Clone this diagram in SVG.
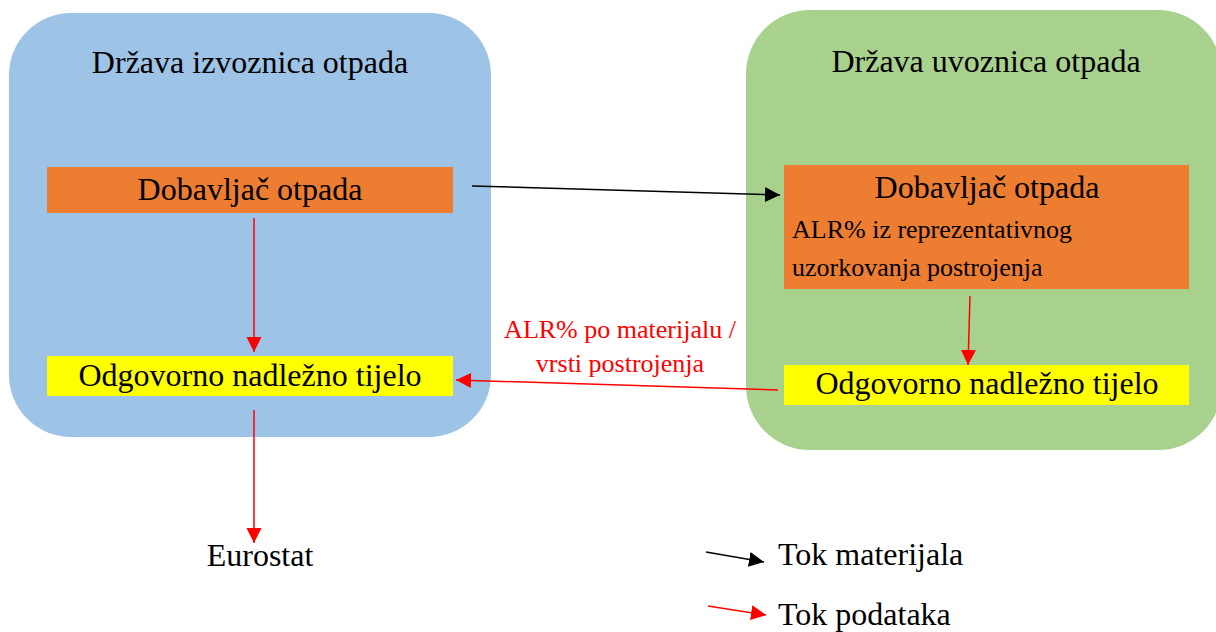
<svg xmlns="http://www.w3.org/2000/svg" width="1216" height="632" viewBox="0 0 1216 632">
<style>
text{font-family:"Liberation Serif","Times New Roman",serif;fill:#000}
.t32{font-size:32px}
.t26{font-size:26px}
.red{fill:#FF0000}
.lr{stroke:#FF0000;stroke-width:1.5;fill:none}
.lb{stroke:#000;stroke-width:1.5;fill:none}
</style>
<defs>
<marker id="ar" markerUnits="userSpaceOnUse" markerWidth="16" markerHeight="16" refX="15" refY="7.5" orient="auto"><path d="M0,0 L15,7.5 L0,15 z" fill="#FF0000"/></marker>
<marker id="ab" markerUnits="userSpaceOnUse" markerWidth="16" markerHeight="16" refX="15" refY="7.5" orient="auto"><path d="M0,0 L15,7.5 L0,15 z" fill="#000"/></marker>
</defs>
<rect width="1216" height="632" fill="#fff"/>
<g id="export-country">
<rect x="9" y="13" width="482" height="424" rx="62" ry="62" fill="#9DC3E6"/>
<text class="t32" x="250" y="73" text-anchor="middle">Država izvoznica otpada</text>
</g>
<g id="import-country">
<rect x="746" y="10" width="476" height="440" rx="64" ry="64" fill="#A9D18E"/>
<text class="t32" x="986" y="72" text-anchor="middle">Država uvoznica otpada</text>
</g>
<g id="supplier-export">
<rect x="47" y="167" width="406" height="46" fill="#ED7D31"/>
<text class="t32" x="250" y="200" text-anchor="middle">Dobavljač otpada</text>
</g>
<g id="authority-export">
<rect x="47" y="356" width="406" height="40" fill="#FFFF00"/>
<text class="t32" x="250" y="386" text-anchor="middle">Odgovorno nadležno tijelo</text>
</g>
<g id="supplier-import">
<rect x="784" y="165" width="405" height="124" fill="#ED7D31"/>
<text class="t32" x="987" y="198" text-anchor="middle">Dobavljač otpada</text>
<text class="t26" x="792" y="238">ALR% iz reprezentativnog</text>
<text class="t26" x="792" y="276">uzorkovanja postrojenja</text>
</g>
<g id="authority-import">
<rect x="784" y="365" width="405" height="40" fill="#FFFF00"/>
<text class="t32" x="987" y="394" text-anchor="middle">Odgovorno nadležno tijelo</text>
</g>
<g id="eurostat">
<text class="t32" x="260" y="566" text-anchor="middle">Eurostat</text>
</g>
<g id="connectors">
<line class="lb" x1="472" y1="186" x2="780" y2="195" marker-end="url(#ab)"/>
<line class="lr" x1="254" y1="218" x2="254" y2="352" marker-end="url(#ar)"/>
<line class="lr" x1="254" y1="410" x2="254" y2="543" marker-end="url(#ar)"/>
<line class="lr" x1="970" y1="296" x2="968" y2="365" marker-end="url(#ar)"/>
<line class="lr" x1="778" y1="390" x2="456" y2="380" marker-end="url(#ar)"/>
<text class="t26 red" x="620" y="338" text-anchor="middle">ALR% po materijalu /</text>
<text class="t26 red" x="620" y="372" text-anchor="middle">vrsti postrojenja</text>
</g>
<g id="legend">
<line class="lb" x1="706" y1="552" x2="764" y2="562" marker-end="url(#ab)"/>
<text class="t32" x="778" y="565">Tok materijala</text>
<line class="lr" x1="708" y1="606" x2="766" y2="615" marker-end="url(#ar)"/>
<text class="t32" x="778" y="625">Tok podataka</text>
</g>
</svg>
